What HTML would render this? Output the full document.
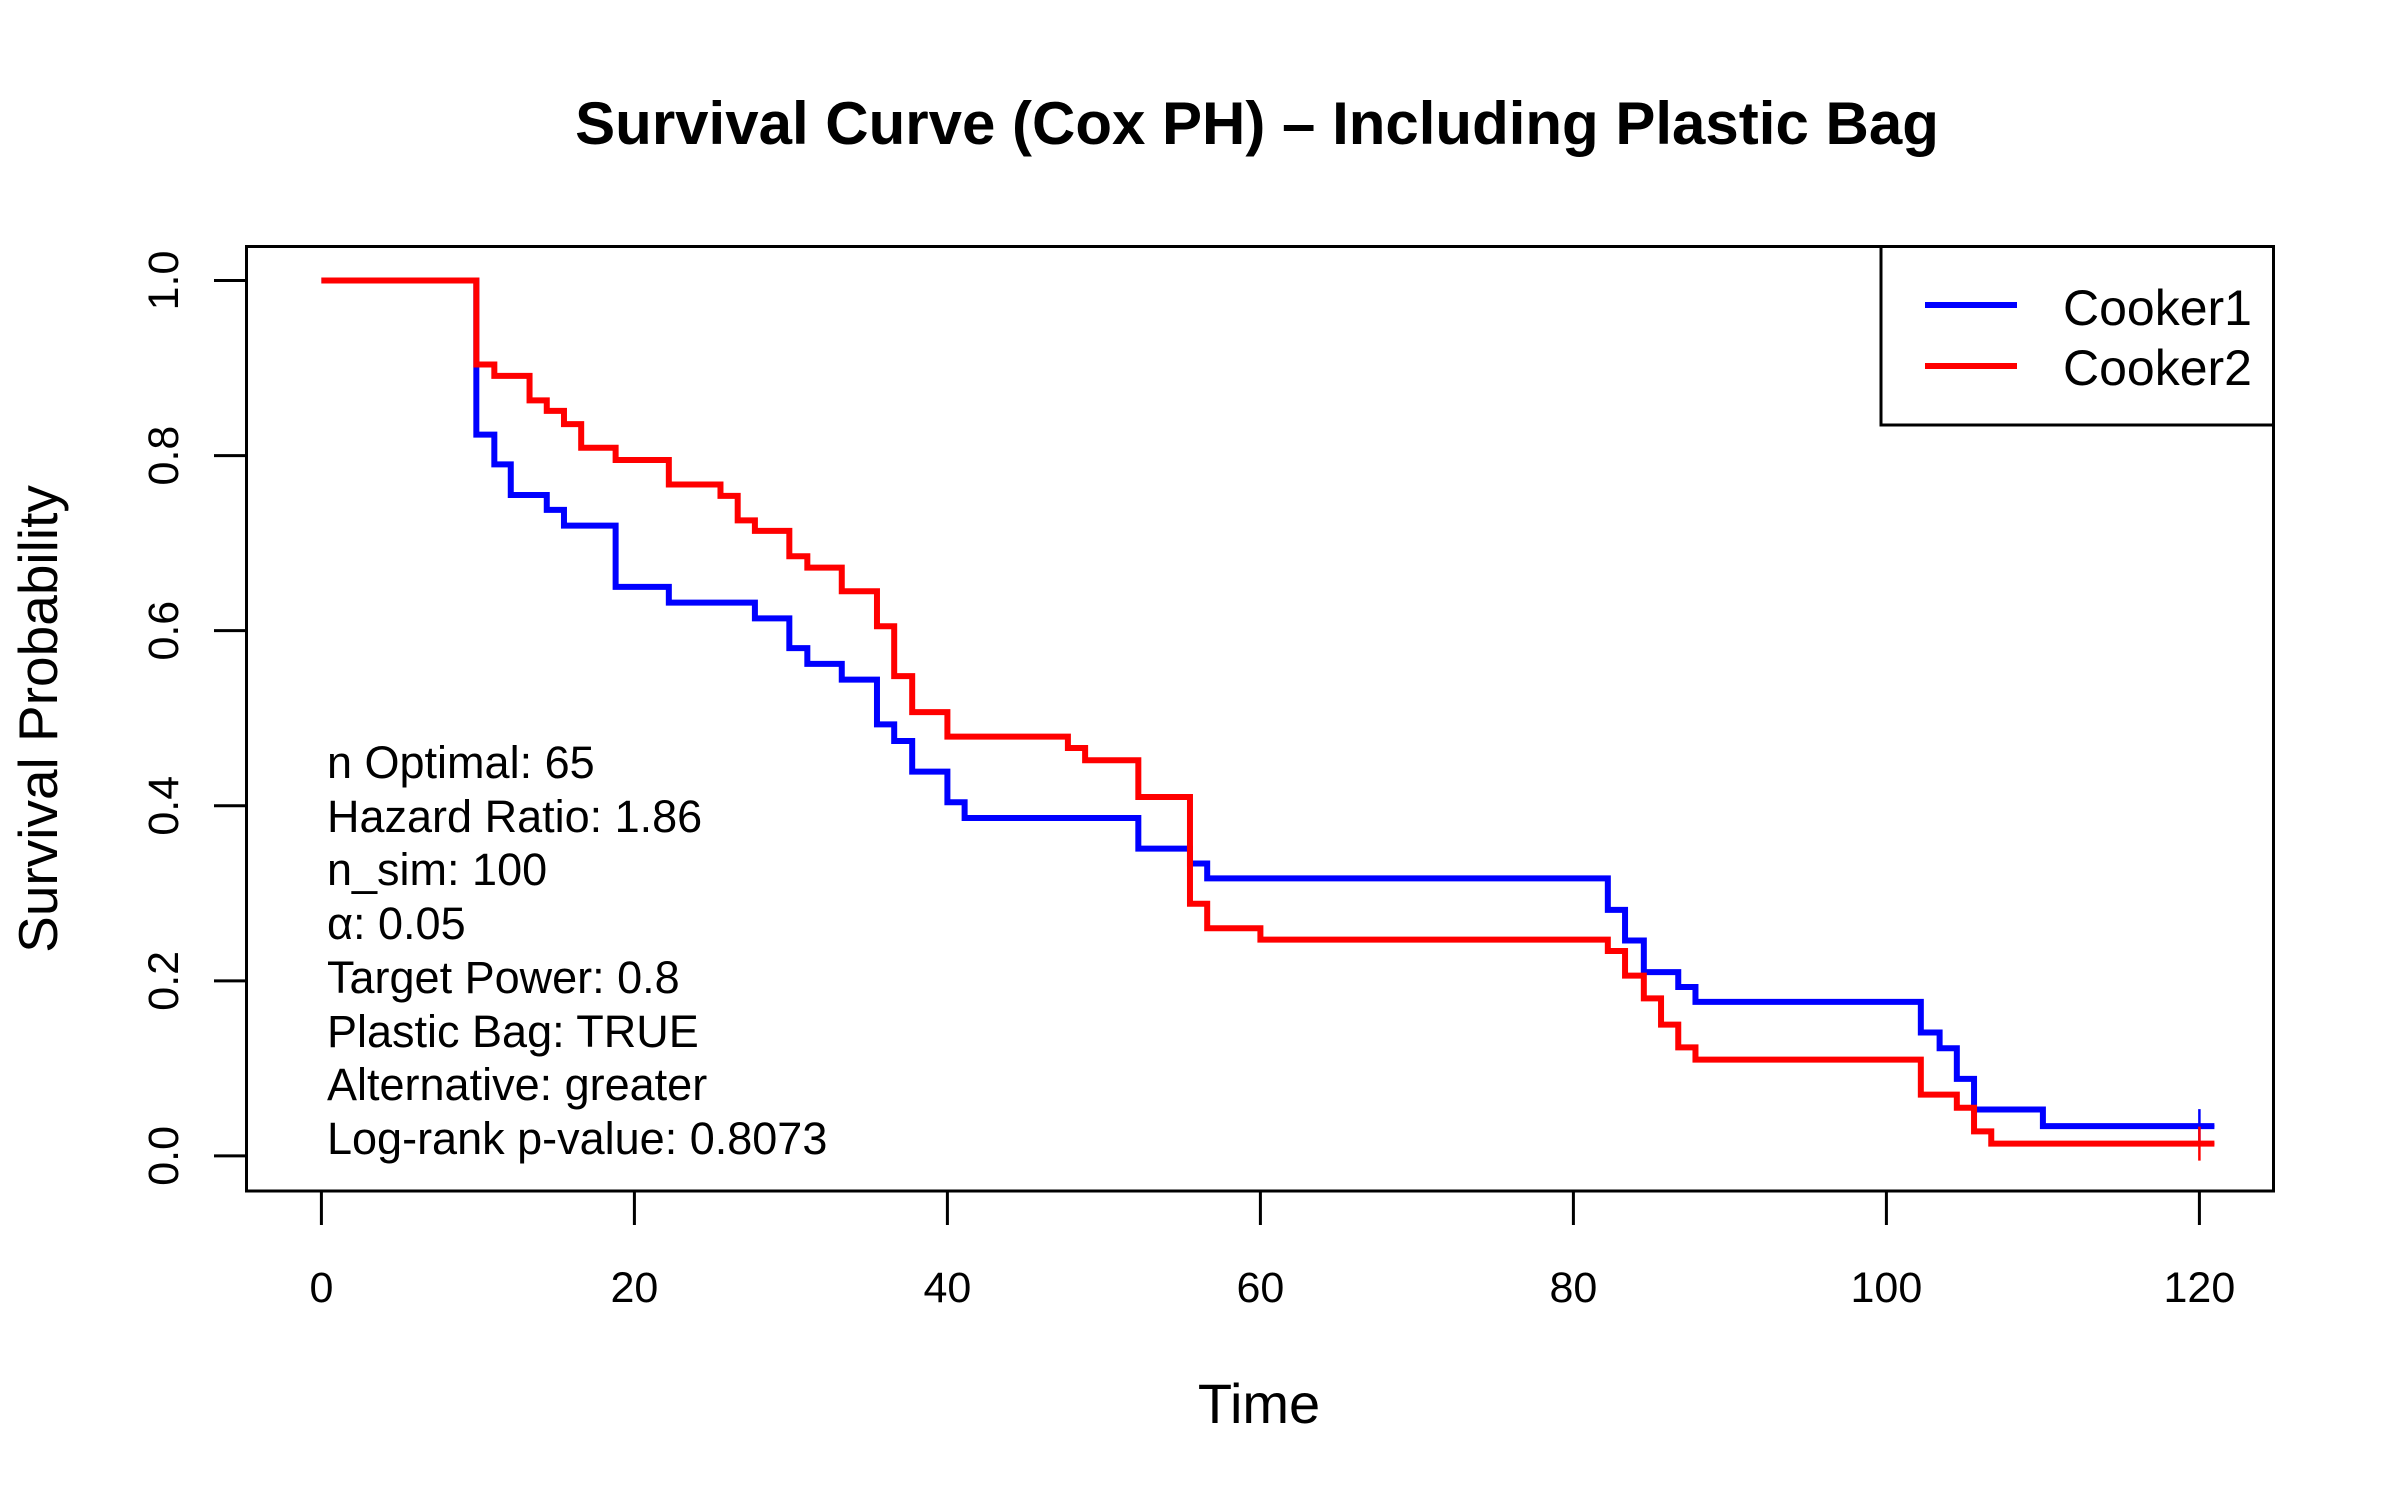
<!DOCTYPE html>
<html><head><meta charset="utf-8"><style>
html,body{margin:0;padding:0;background:#fff;}
svg{display:block;font-family:"Liberation Sans",Arial,sans-serif;}
</style></head><body>
<svg id="chart" width="2400" height="1500" viewBox="0 0 2400 1500" xmlns="http://www.w3.org/2000/svg">
<rect width="2400" height="1500" fill="#fff"/>
<text x="1257" y="144" font-size="60" font-weight="bold" text-anchor="middle">Survival Curve (Cox PH) – Including Plastic Bag</text>
<text x="1259" y="1423" font-size="56" text-anchor="middle">Time</text>
<text transform="translate(57,719) rotate(-90)" font-size="55" text-anchor="middle">Survival Probability</text>
<g id="axes"></g>
<g id="series"></g>
<rect x="246.5" y="246.5" width="2027" height="944.5" fill="none" stroke="#000" stroke-width="3"/>
<g>
<rect x="1881" y="246.5" width="392.5" height="178.5" fill="#fff" stroke="#000" stroke-width="3"/>
<line x1="1925" y1="305" x2="2017" y2="305" stroke="#0000ff" stroke-width="6"/>
<text x="2063" y="325" font-size="50">Cooker1</text>
<line x1="1925" y1="366" x2="2017" y2="366" stroke="#ff0000" stroke-width="6"/>
<text x="2063" y="385" font-size="50">Cooker2</text>
</g>
<g font-size="45">
<text x="327" y="778">n Optimal: 65</text>
<text x="327" y="832">Hazard Ratio: 1.86</text>
<text x="327" y="885">n_sim: 100</text>
<text x="327" y="939">α: 0.05</text>
<text x="327" y="993">Target Power: 0.8</text>
<text x="327" y="1047">Plastic Bag: TRUE</text>
<text x="327" y="1100">Alternative: greater</text>
<text x="327" y="1154">Log-rank p-value: 0.8073</text>
</g>
</svg>
<script>
const xTicks = [0, 20, 40, 60, 80, 100, 120];
const yTicks = [0.0, 0.2, 0.4, 0.6, 0.8, 1.0];
const yTickLabels = ["0.0", "0.2", "0.4", "0.6", "0.8", "1.0"];
const cooker1Times = [0, 9.9, 11.05, 12.1, 14.4, 15.5, 18.8, 22.2, 27.7, 29.9, 31.05, 33.25, 35.5, 36.6, 37.75, 40.0, 41.1, 52.2, 55.5, 56.6, 82.2, 83.3, 84.5, 86.7, 87.8, 102.2, 103.4, 104.5, 105.6, 110.0];
const cooker1Surv = [1.0, 0.824, 0.790, 0.755, 0.738, 0.720, 0.650, 0.632, 0.614, 0.580, 0.562, 0.544, 0.493, 0.474, 0.439, 0.404, 0.386, 0.351, 0.334, 0.317, 0.281, 0.246, 0.210, 0.193, 0.176, 0.141, 0.123, 0.088, 0.053, 0.034];
const cooker2Times = [0, 9.9, 11.05, 13.3, 14.4, 15.5, 16.6, 18.8, 22.2, 25.5, 26.6, 27.7, 29.9, 31.05, 33.25, 35.5, 36.6, 37.75, 40.0, 47.7, 48.8, 52.2, 55.5, 56.6, 60.0, 82.2, 83.3, 84.5, 85.6, 86.7, 87.8, 102.2, 104.5, 105.6, 106.7];
const cooker2Surv = [1.0, 0.904, 0.891, 0.863, 0.851, 0.836, 0.809, 0.795, 0.767, 0.754, 0.726, 0.714, 0.685, 0.672, 0.645, 0.605, 0.548, 0.507, 0.479, 0.466, 0.452, 0.410, 0.288, 0.260, 0.247, 0.234, 0.206, 0.180, 0.150, 0.124, 0.110, 0.070, 0.055, 0.028, 0.014];
const endTime = 120;

const NS = "http://www.w3.org/2000/svg";
function xs(t){ return 321.4 + t * 15.65; }
function ys(p){ return 1155.9 - p * 875.4; }
function mk(tag, attrs){ const e = document.createElementNS(NS, tag); for (const k in attrs) e.setAttribute(k, attrs[k]); return e; }

const axes = document.getElementById('axes');
const xl = mk('line', {x1: xs(xTicks[0]), x2: xs(xTicks[xTicks.length-1]), y1: 1191, y2: 1191, stroke: '#000', 'stroke-width': 3});


axes.appendChild(xl);
xTicks.forEach(v => {
  const t = mk('line', {x1: xs(v), x2: xs(v), y1: 1191, y2: 1225, stroke: '#000', 'stroke-width': 3});
  
  
  axes.appendChild(t);
  const l = mk('text', {x: xs(v), y: 1302, 'font-size': 43, 'text-anchor': 'middle'});
  
  
  l.textContent = String(v);
  axes.appendChild(l);
});
const yl = mk('line', {x1: 246.5, x2: 246.5, y1: ys(yTicks[0]), y2: ys(yTicks[yTicks.length-1]), stroke: '#000', 'stroke-width': 3});


axes.appendChild(yl);
yTicks.forEach((v, i) => {
  const t = mk('line', {x1: 214, x2: 246.5, y1: ys(v), y2: ys(v), stroke: '#000', 'stroke-width': 3});
  
  
  axes.appendChild(t);
  const l = mk('text', {transform: 'translate(178,' + ys(v) + ') rotate(-90)', 'font-size': 43, 'text-anchor': 'middle'});
  
  
  l.textContent = yTickLabels[i];
  axes.appendChild(l);
});

const series = document.getElementById('series');
function drawSeries(times, surv, color, name){
  let d = 'M' + xs(times[0]) + ',' + ys(surv[0]);
  for (let i = 1; i < times.length; i++) {
    d += ' H' + xs(times[i]) + ' V' + ys(surv[i]);
  }
  d += ' H' + (xs(endTime) + 15);
  const p = mk('path', {d: d, fill: 'none', stroke: color, 'stroke-width': 6, 'stroke-linejoin': 'miter'});
  
  
  series.appendChild(p);
  const last = surv[surv.length-1];
  const c = mk('path', {d: 'M' + (xs(endTime)-15) + ',' + ys(last) + ' H' + (xs(endTime)+15) + ' M' + xs(endTime) + ',' + (ys(last)-17) + ' V' + (ys(last)+17), stroke: color, 'stroke-width': 2.5, fill: 'none'});
  
  
  series.appendChild(c);
}
drawSeries(cooker1Times, cooker1Surv, '#0000ff', 'cooker1');
drawSeries(cooker2Times, cooker2Surv, '#ff0000', 'cooker2');
</script>
</body></html>
